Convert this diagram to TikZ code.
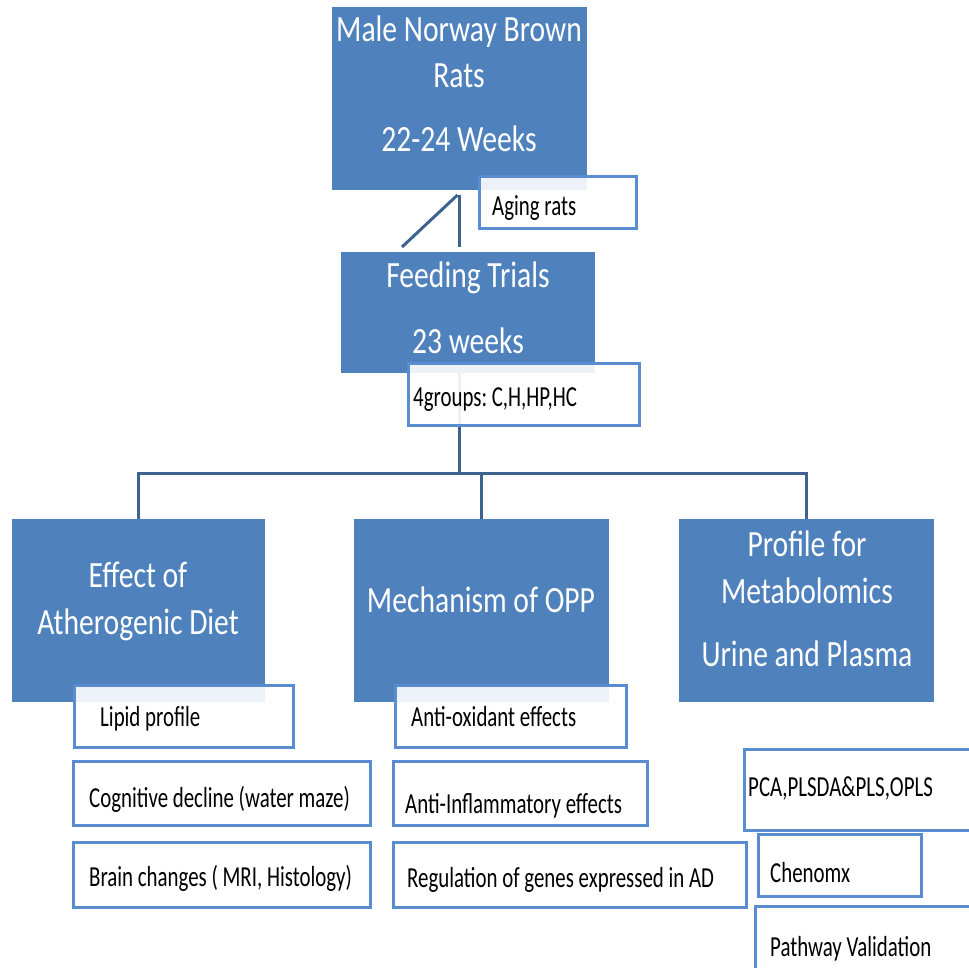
\documentclass[tikz,border=0pt]{standalone}
\usepackage{fontspec}
\setmainfont{Carlito}
\newfontfamily\bigf{Carlito}[FakeStretch=0.8]
\newfontfamily\smallf{Carlito}[FakeStretch=0.72]
\definecolor{boxblue}{HTML}{4F81BD}
\definecolor{rimblue}{HTML}{5A8CD2}
\definecolor{linkblue}{HTML}{3F6390}
\frenchspacing

\begin{document}
\begin{tikzpicture}[x=1pt,y=-1pt,
  solid box/.style={fill=boxblue, draw=none, anchor=north west, inner sep=0pt, outer sep=0pt},
  note box/.style={fill=white, fill opacity=0.9, draw=rimblue, line width=3pt, anchor=north west, inner sep=0pt, outer sep=0pt},
  big text/.style={text=white, font=\bigf\fontsize{37}{44}\selectfont, anchor=base, inner sep=0pt},
  small text/.style={text=black, font=\smallf\fontsize{29}{34}\selectfont, anchor=base west, inner sep=0pt},
  link/.style={draw=linkblue, line width=3pt}]

\useasboundingbox (0,0) rectangle (969,968);
\clip (0,0) rectangle (969,968);

% main blue blocks
\node[solid box, minimum width=255pt, minimum height=183pt] (top)  at (332,7)   {};
\node[solid box, minimum width=254pt, minimum height=121pt] (feed) at (341,252) {};
\node[solid box, minimum width=253pt, minimum height=183pt] (effA) at (12,519)  {};
\node[solid box, minimum width=255pt, minimum height=183pt] (mech) at (354,519) {};
\node[solid box, minimum width=255pt, minimum height=183pt] (prof) at (679,519) {};

% connectors
\coordinate (topA) at ([yshift=-5pt]top.south);
\coordinate (topB) at ([xshift=-2pt,yshift=-5pt]top.south);
\coordinate (feedA) at ([yshift=5pt]feed.north -| top.south);
\coordinate (feedB) at (402,247);
\draw[link] (topA) -- (feedA);
\draw[link] (topB) -- (feedB);

\coordinate (fork) at (459,473);
\draw[link] (feed.south -| fork) -- (fork);
\draw[link] (effA.north) -- (effA.north |- fork) -- (prof.north |- fork) -- (prof.north);
\draw[link] (mech.north) -- (mech.north |- fork);

% outlined note boxes
\node[note box, minimum width=157pt, minimum height=52pt] (aging)  at (479.5,176.5) {};
\node[note box, minimum width=231pt, minimum height=62pt] (groups) at (408.5,363.5) {};
\node[note box, minimum width=219pt, minimum height=62pt] (lipid)  at (74.5,685.5)  {};
\node[note box, minimum width=297pt, minimum height=64pt] (cog)    at (73.5,761.5)  {};
\node[note box, minimum width=297pt, minimum height=65pt] (brain)  at (73.5,842.5)  {};
\node[note box, minimum width=231pt, minimum height=62pt] (antiox) at (395.5,685.5) {};
\node[note box, minimum width=254pt, minimum height=64pt] (antiinf) at (393.5,761.5) {};
\node[note box, minimum width=353pt, minimum height=65pt] (reg)    at (393.5,842.5) {};
\node[note box, minimum width=260pt, minimum height=81pt] (pca)    at (744.5,749.5) {};
\node[note box, minimum width=163pt, minimum height=62pt] (chen)   at (758.5,834.5) {};
\node[note box, minimum width=250pt, minimum height=90pt] (path)   at (755.5,906.5) {};

% block titles
\node[big text] (t1) at (459,42)  {Male Norway Brown};
\node[big text] (t2) at (459,88)  {Rats};
\node[big text] (t3) at (459,152) {22-24 Weeks};
\node[big text] (f1) at (468,288) {Feeding Trials};
\node[big text] (f2) at (468,353) {23 weeks};
\node[big text] (e1) at (138,587) {Effect of};
\node[big text] (e2) at (138,634) {Atherogenic Diet};
\node[big text] (m1) at (481,612) {Mechanism of OPP};
\node[big text] (p1) at (807,556) {Profile for};
\node[big text] (p2) at (807,603) {Metabolomics};
\node[big text] (p3) at (807,666) {Urine and Plasma};

% note texts
\node[small text] (aging-t)  at (492,216) {Aging rats};
\node[small text] (groups-t) at (413,406) {4groups: C,H,HP,HC};
\node[small text] (lipid-t)  at (100,726) {Lipid profile};
\node[small text] (cog-t)    at (89,807)  {Cognitive decline (water maze)};
\node[small text] (brain-t)  at (89,886)  {Brain changes ( MRI, Histology)};
\node[small text] (antiox-t) at (411,726) {Anti-oxidant effects};
\node[small text] (antiinf-t) at (405,813) {Anti-Inflammatory effects};
\node[small text] (reg-t)    at (407,887) {Regulation of genes expressed in AD};
\node[small text] (pca-t)    at (748,796) {PCA,PLSDA\&PLS,OPLS};
\node[small text] (chen-t)   at (770,882) {Chenomx};
\node[small text] (path-t)   at (770,956) {Pathway Validation};
\end{tikzpicture}
\end{document}
